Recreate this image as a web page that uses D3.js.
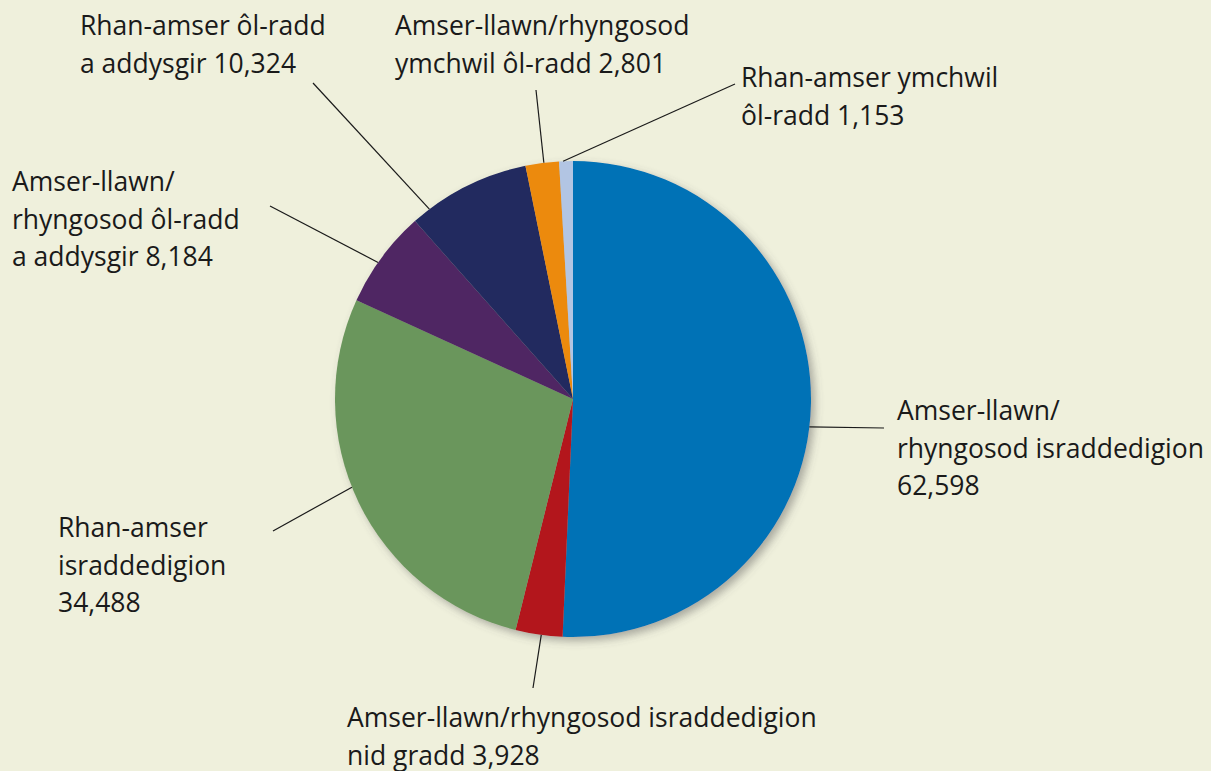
<!DOCTYPE html>
<html>
<head>
<meta charset="utf-8">
<script src="https://cdn.jsdelivr.net/npm/d3@7"></script>
<style>
  html, body { margin: 0; padding: 0; background: #eff0dc; }
  svg { display: block; }
  text { font-family: "Open Sans", sans-serif; font-size: 26.5px; fill: #1a1a1a; }
</style>
</head>
<body>
<script>
// data
const categories = [
  "Amser-llawn/rhyngosod israddedigion",
  "Amser-llawn/rhyngosod israddedigion nid gradd",
  "Rhan-amser israddedigion",
  "Amser-llawn/rhyngosod ôl-radd a addysgir",
  "Rhan-amser ôl-radd a addysgir",
  "Amser-llawn/rhyngosod ymchwil ôl-radd",
  "Rhan-amser ymchwil ôl-radd"
];
const values = [62598, 3928, 34488, 8184, 10324, 2801, 1153];
const labelLines = [
  ["Amser-llawn/", "rhyngosod israddedigion", "62,598"],
  ["Amser-llawn/rhyngosod israddedigion", "nid gradd 3,928"],
  ["Rhan-amser", "israddedigion", "34,488"],
  ["Amser-llawn/", "rhyngosod ôl-radd", "a addysgir 8,184"],
  ["Rhan-amser ôl-radd", "a addysgir 10,324"],
  ["Amser-llawn/rhyngosod", "ymchwil ôl-radd 2,801"],
  ["Rhan-amser ymchwil", "ôl-radd 1,153"]
];
const colors = ["#0072b6", "#b3121d", "#6b965c", "#4f2563", "#20295f", "#ec8a0b", "#b2c5e3"];

// layout: label text origin, leader end and where along the slice the leader touches
const labelPos = [[897, 420], [347, 727], [58, 537], [12, 191], [80, 35], [395, 35], [741, 87]];
const leaderEnd = [[884, 428], [533, 688], [273, 531], [270, 206], [313, 83], [536, 90], [735, 84]];
const leaderFrac = [0.53, 0.45, 0.54, 0.44, 0.15, 0.55, 0.29];

const width = 1211, height = 771;
const cx = 573, cy = 399, radius = 238, lineH = 37.5;

const svg = d3.select("body").append("svg")
  .attr("width", width).attr("height", height);

svg.append("rect").attr("width", width).attr("height", height).attr("fill", "#eff0dc");

const defs = svg.append("defs");
const f = defs.append("filter").attr("id", "shadow")
  .attr("x", "-10%").attr("y", "-10%").attr("width", "120%").attr("height", "120%");
f.append("feDropShadow").attr("dx", 4).attr("dy", 4).attr("stdDeviation", 4)
  .attr("flood-color", "#555").attr("flood-opacity", 0.45);

const pie = d3.pie().sort(null).value(d => d);
const arcs = pie(values);
const arc = d3.arc().innerRadius(0).outerRadius(radius);

const g = svg.append("g").attr("transform", `translate(${cx},${cy})`);

g.append("g").attr("filter", "url(#shadow)")
  .selectAll("path")
  .data(arcs)
  .enter()
  .append("path")
  .attr("d", arc)
  .attr("fill", (d, i) => colors[i]);

// leader lines
const edgeAngle = (d, i) => d.startAngle + (d.endAngle - d.startAngle) * leaderFrac[i];

svg.append("g").selectAll("line")
  .data(arcs)
  .enter()
  .append("line")
  .attr("x1", (d, i) => cx + radius * Math.sin(edgeAngle(d, i)))
  .attr("y1", (d, i) => cy - radius * Math.cos(edgeAngle(d, i)))
  .attr("x2", (d, i) => leaderEnd[i][0])
  .attr("y2", (d, i) => leaderEnd[i][1])
  .attr("stroke", "#1a1a1a")
  .attr("stroke-width", 1.2);

// labels
const labels = svg.append("g").selectAll("text")
  .data(labelLines)
  .enter()
  .append("text")
  .attr("x", (d, i) => labelPos[i][0])
  .attr("y", (d, i) => labelPos[i][1]);

labels.selectAll("tspan")
  .data((d, i) => d.map(t => ({ t, i })))
  .enter()
  .append("tspan")
  .attr("x", d => labelPos[d.i][0])
  .attr("dy", (d, j) => j === 0 ? 0 : lineH)
  .text(d => d.t);
</script>
</body>
</html>
